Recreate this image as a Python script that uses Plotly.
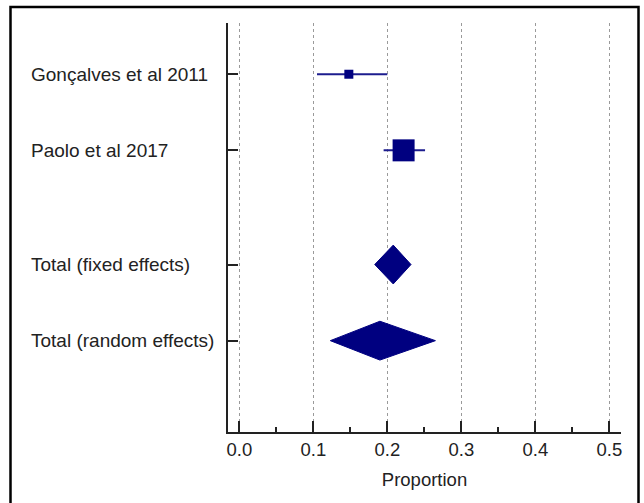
import plotly.graph_objects as go

# Data
studies = ["Gonçalves et al 2011", "Paolo et al 2017", "Total (fixed effects)", "Total (random effects)"]
row_pos = [1, 2, 3.5, 4.5]
estimate = [0.148, 0.222, 0.208, 0.190]
ci_low = [0.105, 0.195, 0.183, 0.123]
ci_high = [0.200, 0.251, 0.232, 0.265]
is_pooled = [False, False, True, True]
marker_sizes = [9, 22, None, None]
x_ticks = [0.0, 0.1, 0.2, 0.3, 0.4, 0.5]
x_title = "Proportion"

NAVY = "#000080"
LINE_BLUE = "#1c1c8e"
FONT = "Liberation Sans, Arial, sans-serif"
TXT = "#222222"
DIAMOND_HALF = 0.255

fig = go.Figure()

for name, y, est, lo, hi, pooled, ms in zip(studies, row_pos, estimate, ci_low, ci_high, is_pooled, marker_sizes):
    if not pooled:
        fig.add_trace(go.Scatter(x=[lo, hi], y=[y, y], mode="lines",
                                 line=dict(color=LINE_BLUE, width=2),
                                 hoverinfo="skip", showlegend=False))
        fig.add_trace(go.Scatter(x=[est], y=[y], mode="markers",
                                 marker=dict(symbol="square", size=ms, color=NAVY,
                                             line=dict(width=0)),
                                 name=name, showlegend=False))
    else:
        fig.add_trace(go.Scatter(x=[lo, est, hi, est, lo],
                                 y=[y, y - DIAMOND_HALF, y, y + DIAMOND_HALF, y],
                                 mode="lines", fill="toself", fillcolor=NAVY,
                                 line=dict(color=NAVY, width=1),
                                 name=name, showlegend=False))

annotations = []
for name, y in zip(studies, row_pos):
    annotations.append(dict(x=(29 - 228) / 393, xref="paper", y=y, yref="y",
                            text=name, showarrow=False, xanchor="left", yanchor="middle",
                            font=dict(family=FONT, size=19, color=TXT)))

fig.update_layout(
    width=644, height=503,
    margin=dict(l=228, r=23, t=23, b=71),
    paper_bgcolor="white", plot_bgcolor="white",
    showlegend=False,
    font=dict(family=FONT, size=18, color=TXT),
    annotations=annotations,
    shapes=[dict(type="rect", xref="paper", yref="paper",
                 x0=(10.5 - 228) / 393, x1=(638.5 - 228) / 393,
                 y0=(432 - 507) / 409, y1=(432 - 7) / 409,
                 line=dict(color="black", width=2.5), fillcolor="rgba(0,0,0,0)",
                 layer="above")],
)

fig.update_xaxes(
    range=[-0.0153, 0.5158], tickvals=x_ticks, tickformat=".1f",
    ticks="inside", ticklen=11, tickwidth=2, tickcolor="#222",
    showline=True, linewidth=2, linecolor="#222", mirror=False,
    showgrid=True, gridcolor="#9a9a9a", gridwidth=1, griddash="dot",
    zeroline=False,
    minor=dict(dtick=0.05, tick0=0, ticks="inside", ticklen=5, tickwidth=1.5,
               tickcolor="#222", showgrid=False),
    tickfont=dict(family=FONT, size=18.5, color=TXT),
    title=dict(text=x_title, font=dict(family=FONT, size=18.5, color=TXT), standoff=14),
)
fig.update_yaxes(
    range=[5.70, 0.327], tickvals=row_pos, showticklabels=False,
    ticks="inside", ticklen=10, tickwidth=2, tickcolor="#222",
    showline=True, linewidth=2, linecolor="#222",
    showgrid=False, zeroline=False,
)

fig.write_html("out.html")
